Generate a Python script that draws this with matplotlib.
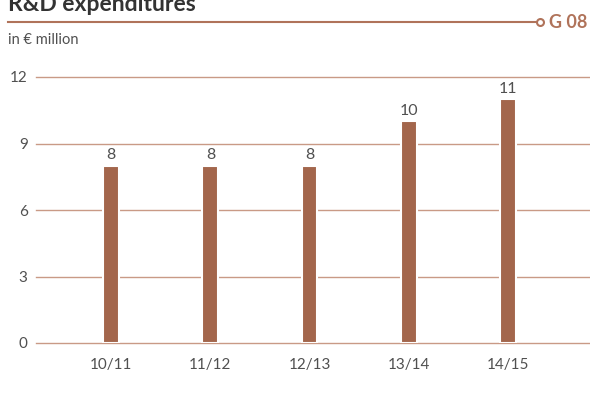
import matplotlib
matplotlib.use("Agg")
import matplotlib.pyplot as plt
from matplotlib.lines import Line2D

plt.rcParams['font.family'] = ['Lato', 'DejaVu Sans']

categories = ["10/11", "11/12", "12/13", "13/14", "14/15"]
values = [8, 8, 8, 10, 11]
yticks = [0, 3, 6, 9, 12]

bar_color = "#A3664C"
grid_color = "#C99A86"
text_color = "#505050"
accent = "#B0735A"

fig = plt.figure(figsize=(5.9, 4.07), dpi=100)
ax = fig.add_axes([36/590, 1-343/407, (590-36)/590, 266/407])

x = list(range(len(categories)))
ax.set_xlim(-0.76, 4.83)
ax.set_ylim(0, 12)
for t in yticks:
    ax.axhline(t, color=grid_color, lw=1.0, zorder=1, clip_on=False)
bars = ax.bar(x, values, width=0.16, color=bar_color, edgecolor="white", linewidth=1.5, zorder=2)
for xi, v in zip(x, values):
    ax.text(xi, v + 0.15, str(v), ha="center", va="bottom", fontsize=11.5, color=text_color)

ax.set_yticks(yticks)
ax.set_yticklabels([str(t) for t in yticks])
ax.set_xticks(x)
ax.set_xticklabels(categories)
ax.tick_params(axis="both", length=0, labelsize=11, labelcolor=text_color)
ax.tick_params(axis="y", pad=6)
ax.tick_params(axis="x", pad=11)
for s in ax.spines.values():
    s.set_visible(False)

fig.text(8/590, 1-11/407, "R&D expenditures", fontsize=16.5, fontweight="bold", color="#333333", ha="left", va="baseline")
fig.add_artist(Line2D([8/590, 537/590], [1-22/407, 1-22/407], color=accent, lw=1.5, transform=fig.transFigure))
fig.add_artist(Line2D([540/590], [1-22/407], marker="o", markersize=5, markerfacecolor="white", markeredgecolor=accent, markeredgewidth=1.5, transform=fig.transFigure))
fig.text(587/590, 1-22/407, "G 08", fontsize=13, fontweight="bold", color=accent, ha="right", va="center")
fig.text(8/590, 1-40/407, "in € million", fontsize=10.5, color=text_color, ha="left", va="center")

fig.savefig("out.png", dpi=100)
